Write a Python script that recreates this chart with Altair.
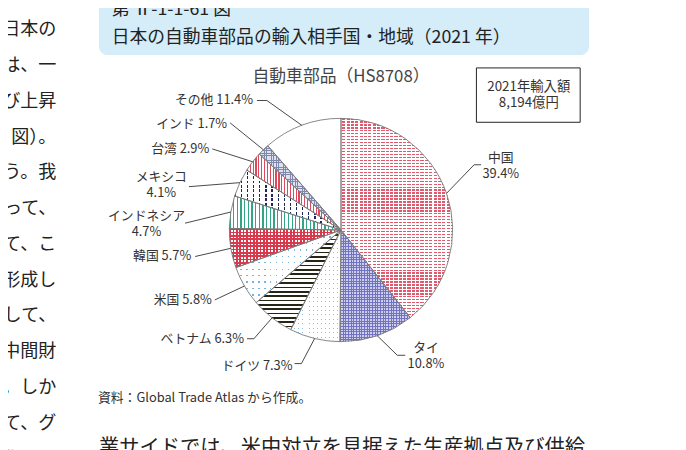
import math

import altair as alt
import pandas as pd

FONT = "Noto Sans CJK JP"

# ---- データ ---------------------------------------------------------------
COUNTRIES = ["中国", "タイ", "ドイツ", "ベトナム", "米国", "韓国",
             "インドネシア", "メキシコ", "台湾", "インド", "その他"]
SHARES = [39.4, 10.8, 7.3, 6.3, 5.8, 5.7, 4.7, 4.1, 2.9, 1.7, 11.4]
TWO_LINE = ["中国", "タイ", "インドネシア", "メキシコ"]

TITLE_NO = "第 Ⅱ-1-1-61 図"
TITLE = "日本の自動車部品の輸入相手国・地域（2021 年）"
SUBTITLE = "自動車部品（HS8708）"
TOTAL_BOX = ["2021年輸入額", "8,194億円"]
SOURCE = "資料：Global Trade Atlas から作成。"
BODY_LEFT = ["等拠点", "、日本の", "格は、一", "及び上昇", "62 図）。", "ろう。我", "よって、",
             "にて、こ", "を形成し", "対して、", "の中間財", "る。しか", "じて、グ", "変化して"]
BODY_BOTTOM = "業サイドでは、米中対立を見据えた生産拠点及び供給"

# ---- レイアウト -------------------------------------------------------------
W, H = 666, 424      # 描画領域。円の中心はその真ん中
OX, OY = 12, 18      # 描画領域左上のページ上の位置
R = 113              # 円の半径 (px)
LINE_H = 16          # 2行ラベルの行送り

# 引き出し線: 折れ点の角度(12時から時計回り, 度)と半径(px)、水平の尻尾(px)、ラベルのずれ
ELBOW_ANGLE = [63.9, 155.8, 196.5, 218.7, 241.0, 259.7, 272.5, 285.9, 302.2, 314.0, 330.2]
ELBOW_RADIUS = [150, 139, 141, 141, 146, 150, 158, 160, 154, 156, 151]
TAIL = [7, 8, -7, -7, 0, 0, 0, 0, 0, 0, -10]
LABEL_DX = [20, 21, -2, -3, -3, -4, -39, -28, -3, -3, -4]
LABEL_DY = [1.5, 1, 2, 0, 0, 0, 0.5, -2, 0, 1, 0]

# 網掛け: ("solid", 色) か (向き, 周期px, 線幅px, 色)。v=縦線, h=横線
PATTERNS = {
    "中国": [("h", 3.0, 1.3, "#e05a6e"), ("v", 4.4, 1.2, "#ffffff")],
    "タイ": [("solid", "#cfcff0"), ("h", 2.7, 1.0, "#7272c2"), ("v", 2.7, 1.0, "#7272c2")],
    "ドイツ": [("h", 4.5, 1.0, "#8fbde0"), ("v", 4.0, 3.0, "#ffffff")],
    "ベトナム": [("h", 4.4, 1.7, "#262616")],
    "米国": [("h", 6.5, 1.4, "#79b3dd"), ("v", 6.0, 4.6, "#ffffff")],
    "韓国": [("h", 3.4, 1.7, "#d8394d"), ("v", 3.4, 1.7, "#d8394d")],
    "インドネシア": [("v", 3.7, 1.3, "#34a486")],
    "メキシコ": [("v", 6.2, 1.3, "#1d2858"), ("h", 4.5, 1.6, "#ffffff")],
    "台湾": [("v", 2.9, 1.2, "#e0485c")],
    "インド": [("solid", "#dfe2ee"), ("h", 2.4, 0.8, "#7f88ad"), ("v", 2.4, 0.8, "#7f88ad")],
    "その他": [],
}

XS = alt.Scale(domain=[-W / 2, W / 2], nice=False, zero=False)
YS = alt.Scale(domain=[-H / 2, H / 2], nice=False, zero=False)
TOTAL = round(sum(SHARES), 1)
THETA = alt.Scale(domain=[0, TOTAL], nice=False)


def sector_box(a0, a1, r=R):
    """扇形(中心を含む)の外接矩形の幅と高さ。網掛けの周期をpxに合わせるため。"""
    angles = [a0, a1] + [q for q in (0, 90, 180, 270, 360) if a0 < q < a1]
    xs = [0.0] + [r * math.sin(math.radians(a)) for a in angles]
    ys = [0.0] + [r * math.cos(math.radians(a)) for a in angles]
    return max(xs) - min(xs), max(ys) - min(ys)


def stripes(length, period, width, color, direction):
    """ハードストップの線形グラデーションで縞を描く。"""
    clear = "rgba(255,255,255,0)"
    stops = []
    pos = 0.0
    while pos < length:
        a = pos / length
        b = min(pos + width, length) / length
        c = min(pos + period, length) / length
        stops += [(a, color), (b, color), (b, clear), (c, clear)]
        pos += period
    ends = {"v": dict(x1=0, y1=0, x2=1, y2=0), "h": dict(x1=0, y1=0, x2=0, y2=1)}[direction]
    return alt.LinearGradient(
        gradient="linear",
        stops=[alt.GradientStop(offset=round(o, 4), color=col) for o, col in stops],
        **ends,
    )


def page_text(txt, x, y, size, align="left", color="#222222", baseline="middle"):
    """誌面の地の文・見出し。x, y はページ上の位置。"""
    return (
        alt.Chart(pd.DataFrame({"k": [0]}))
        .mark_text(text=txt, align=align, baseline=baseline, fontSize=size, color=color, font=FONT)
        .encode(x=alt.value(x - OX), y=alt.value(y - OY))
    )


def page_rect(x, x2, y, y2, **style):
    return (
        alt.Chart(pd.DataFrame({"k": [0]}))
        .mark_rect(**style)
        .encode(x=alt.value(x - OX), x2=alt.value(x2 - OX), y=alt.value(y - OY), y2=alt.value(y2 - OY))
    )


pie = pd.DataFrame({
    "country": COUNTRIES,
    "share": SHARES,
    "order": range(len(COUNTRIES)),
    "lines": [2 if c in TWO_LINE else 1 for c in COUNTRIES],
    "label": [f"{c}\n{s:.1f}%" if c in TWO_LINE else f"{c} {s:.1f}%" for c, s in zip(COUNTRIES, SHARES)],
    "elbow_a": ELBOW_ANGLE,
    "elbow_r": ELBOW_RADIUS,
    "tail": TAIL,
    "ldx": LABEL_DX,
    "ldy": LABEL_DY,
})

base = (
    alt.Chart(pie)
    .transform_window(end="sum(share)", sort=[alt.SortField("order")], frame=[None, 0])
    .transform_joinaggregate(total="sum(share)")
    .transform_calculate(
        start="datum.end - datum.share",
        mid="(datum.end - datum.share / 2) / datum.total * 2 * PI",
    )
)
arc_enc = dict(theta=alt.Theta("start:Q", stack=None, scale=THETA), theta2="end:Q")

layers = [base.mark_arc(radius=R, fill="#ffffff", strokeWidth=0).encode(**arc_enc)]

# 網掛けを扇ごとに重ねる
edges = [0.0]
for s in SHARES:
    edges.append(edges[-1] + s)
for i, name in enumerate(COUNTRIES):
    bw, bh = sector_box(edges[i] / TOTAL * 360, edges[i + 1] / TOTAL * 360)
    for spec in PATTERNS[name]:
        if spec[0] == "solid":
            fill = spec[1]
        else:
            d, period, width, color = spec
            fill = stripes(bw if d == "v" else bh, period, width, color, d)
        layers.append(
            base.transform_filter(alt.datum.country == name)
            .mark_arc(radius=R, fill=fill, strokeWidth=0)
            .encode(**arc_enc)
        )

layers.append(
    base.mark_arc(radius=R, fillOpacity=0, stroke="#7a7a7a", strokeWidth=0.9).encode(**arc_enc)
)

# 引き出し線とラベル (2行ラベルは1行目の位置を半行ぶん上げてブロックの中心を合わせる)
leaders = base.transform_calculate(
    ex=f"{R} * sin(datum.mid)",
    ey=f"{R} * cos(datum.mid)",
    bx="datum.elbow_r * sin(datum.elbow_a * PI / 180)",
    by="datum.elbow_r * cos(datum.elbow_a * PI / 180)",
    tx="datum.bx + datum.tail",
    lx="datum.tx + datum.ldx",
    ly=f"datum.by - datum.ldy + (datum.lines - 1) * {LINE_H / 2}",
)
X = lambda f: alt.X(f, scale=XS, axis=None)
Y = lambda f: alt.Y(f, scale=YS, axis=None)
LABEL = dict(baseline="middle", fontSize=13, color="#333333", font=FONT, lineBreak="\n", lineHeight=LINE_H)

layers += [
    leaders.mark_rule(color="#333333", strokeWidth=0.9).encode(
        x=X("ex:Q"), y=Y("ey:Q"), x2="bx:Q", y2="by:Q"),
    leaders.transform_filter("datum.tail != 0").mark_rule(color="#333333", strokeWidth=0.9).encode(
        x=X("bx:Q"), y=Y("by:Q"), x2="tx:Q", y2="by:Q"),
    leaders.transform_filter("datum.lines == 1")
    .mark_text(align="right", **LABEL)
    .encode(x=X("lx:Q"), y=Y("ly:Q"), text="label:N"),
    leaders.transform_filter("datum.lines == 2")
    .mark_text(align="center", **LABEL)
    .encode(x=X("lx:Q"), y=Y("ly:Q"), text="label:N"),
]

# 誌面の要素
layers += [
    page_rect(100, 596, -20, 53, fill="#d5edf8", cornerRadius=9),
    page_text(TITLE_NO, 113, 12, 18, baseline="alphabetic"),
    page_text(TITLE, 113, 36, 18),
    page_text(SUBTITLE, 345, 75, 17, align="center", color="#444444"),
    page_rect(482, 587, 66, 121, fill="#ffffff", stroke="#222222", strokeWidth=1),
    page_text(TOTAL_BOX[0], 535, 85, 13.5, align="center", color="#333333"),
    page_text(TOTAL_BOX[1], 535, 102, 13.5, align="center", color="#333333"),
    page_text(SOURCE, 99, 400, 13, color="#333333"),
    page_text(BODY_BOTTOM, 100, 451, 20.5),
]
for k, line in enumerate(BODY_LEFT):
    layers.append(page_text(line, 57, 28 + 36.2 * (k - 1), 18.3, align="right"))

chart = (
    alt.layer(*layers)
    .properties(
        width=W,
        height=H,
        padding={"left": OX - 8, "top": OY - 8, "right": 8, "bottom": 8},
        autosize=alt.AutoSizeParams(type="none"),
    )
    .configure_view(strokeWidth=0)
)

chart.save("out.html", embed_options={"renderer": "svg", "actions": False})
